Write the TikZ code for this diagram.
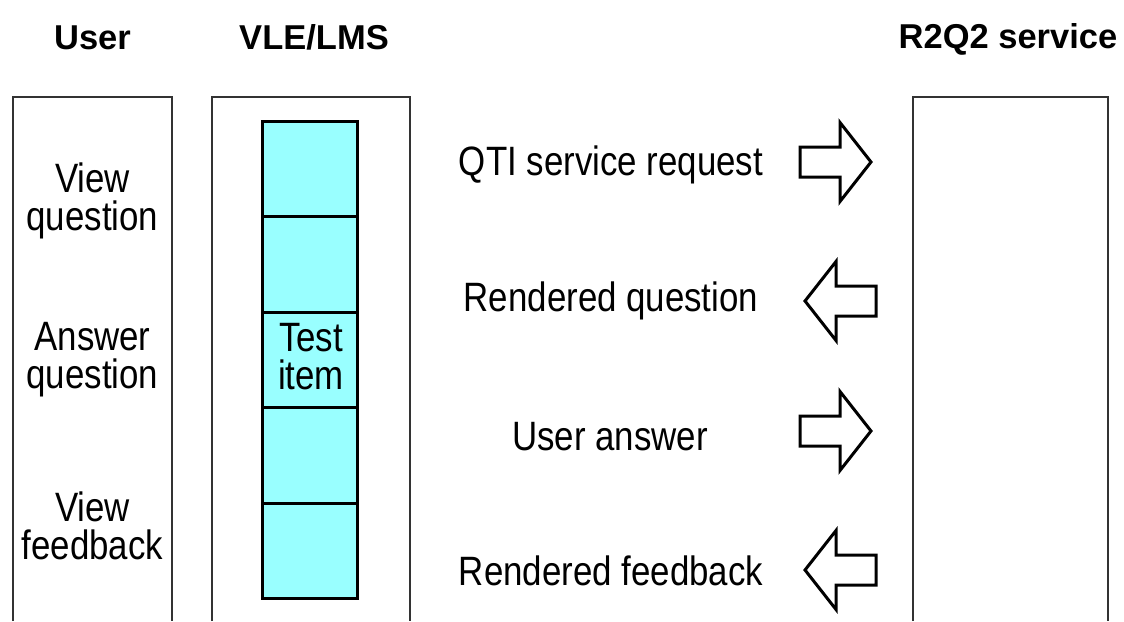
\documentclass[tikz,border=0pt]{standalone}
\usepackage{fontspec}
\setmainfont{Liberation Sans}
\newfontfamily\condfont[FakeStretch=0.85]{Liberation Sans}
\newfontfamily\headfont{Liberation Sans}
\definecolor{cellcyan}{HTML}{99FFFF}
\definecolor{boxgray}{HTML}{333333}
\tikzset{
  lbl/.style={font=\condfont\fontsize{41}{38}\selectfont, align=center, inner sep=0pt},
  head/.style={font=\headfont\bfseries\fontsize{34.5}{36}\selectfont, inner sep=0pt, anchor=base},
  cellbox/.style={draw=black, line width=3pt, fill=cellcyan, minimum width=95pt, minimum height=95.4pt, inner sep=0pt, outer sep=0pt},
  colbox/.style={draw=boxgray, line width=1.2pt},
  flowarrow/.style={draw=black, line width=3pt, fill=white, line join=miter},
  pics/rarrow/.style={code={
    \draw[flowarrow] (-35.5,-15) -- (4.5,-15) -- (4.5,-39.5) -- (35.5,0) -- (4.5,39.5) -- (4.5,15) -- (-35.5,15) -- cycle;}},
  pics/larrow/.style={code={
    \draw[flowarrow] (35.5,-15) -- (-4.5,-15) -- (-4.5,-39.5) -- (-35.5,0) -- (-4.5,39.5) -- (-4.5,15) -- (35.5,15) -- cycle;}}
}
\begin{document}
\begin{tikzpicture}[x=1pt,y=-1pt]
\useasboundingbox (0,0) rectangle (1124,621);
% titles
\node[head] (tuser) at (92.5,49) {User};
\node[head] (tvle) at (314,49) {VLE/LMS};
\node[head] (tr2q2) at (1008,48) {R2Q2 service};
% column boxes (open at the bottom)
\draw[colbox] (13,621) -- (13,97) -- (172,97) -- (172,621);
\draw[colbox] (212,621) -- (212,97) -- (410,97) -- (410,621);
\draw[colbox] (913,621) -- (913,97) -- (1108,97) -- (1108,621);
% user actions
\node[lbl] (viewq) at (92.5,201) {View\\question};
\node[lbl] (answq) at (92.5,360) {Answer\\question};
\node[lbl] (viewf) at (92.5,526) {View\\feedback};
% stack of items
\node[cellbox] (c1) at (309.5,168.7) {};
\node[cellbox] (c2) at (309.5,264.3) {};
\node[cellbox] (c3) at (309.5,359.8) {};
\node[cellbox] (c4) at (309.5,455.3) {};
\node[cellbox] (c5) at (309.5,550.8) {};
\node[lbl] (titem) at (311,357) {Test\\item};
% messages
\node[lbl, anchor=base] (m1) at (611,175) {QTI service request};
\node[lbl, anchor=base] (m2) at (611,311) {Rendered question};
\node[lbl, anchor=base] (m3) at (610,450) {User answer};
\node[lbl, anchor=base] (m4) at (611,585) {Rendered feedback};
% arrows
\pic at (835.5,162) {rarrow};
\pic at (840.5,301) {larrow};
\pic at (835.5,431) {rarrow};
\pic at (840.5,570) {larrow};
\end{tikzpicture}
\end{document}
